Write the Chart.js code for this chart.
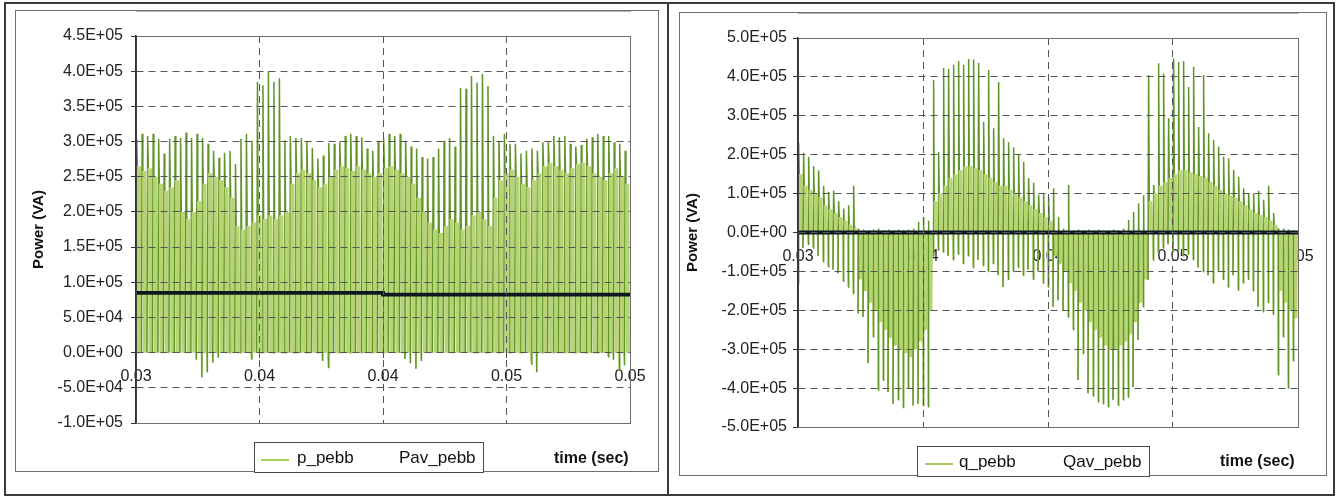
<!DOCTYPE html>
<html>
<head>
<meta charset="utf-8">
<script src="https://cdn.jsdelivr.net/npm/chart.js@4.4.1/dist/chart.umd.min.js"></script>
<style>
  body { margin: 0; width: 1338px; height: 497px; background: #fff; position: relative; overflow: hidden;
         font-family: "Liberation Sans", Arial, sans-serif; color: #111; }
  .outer { position: absolute; left: 4px; top: 2px; width: 1331px; height: 494px; border: 2px solid #3a3a3a; box-sizing: border-box; }
  .divider { position: absolute; left: 667px; top: 2px; width: 2px; height: 494px; background: #3a3a3a; }
  .frame { position: absolute; border: 1px solid #707070; box-sizing: border-box; }
  canvas { position: absolute; }
  .legend { position: absolute; border: 1px solid #4a4a4a; box-sizing: border-box; height: 31px; background: #fff; font-size: 17px; }
  .legend span { position: absolute; top: 5px; line-height: 19px; white-space: nowrap; }
  .legend i { position: absolute; top: 16px; width: 28px; height: 0; border-top: 2px solid #a9cd5a; }
  .xname { position: absolute; font-weight: bold; font-size: 16px; line-height: 18px; white-space: nowrap; }
</style>
</head>
<body>
<div class="outer"></div>
<div class="divider"></div>

<div class="frame" style="left:15px;top:10px;width:644px;height:462px;"></div>
<canvas id="chartP" width="642" height="460" style="left:16px;top:11px;width:642px;height:460px;"></canvas>
<div class="legend" style="left:254px;top:442px;width:230px;">
  <i style="left:6px;"></i><span style="left:42px;">p_pebb</span><span style="left:144px;">Pav_pebb</span>
</div>
<div class="xname" style="left:554px;top:449px;">time (sec)</div>

<div class="frame" style="left:679px;top:12px;width:648px;height:464px;"></div>
<canvas id="chartQ" width="646" height="462" style="left:680px;top:13px;width:646px;height:462px;"></canvas>
<div class="legend" style="left:917px;top:446px;width:233px;">
  <i style="left:7px;"></i><span style="left:41px;">q_pebb</span><span style="left:145px;">Qav_pebb</span>
</div>
<div class="xname" style="left:1220px;top:452px;">time (sec)</div>

<script>
// ---- data (power values in kVA; one entry per switching pulse) ----
const xTickValues = [0.03, 0.035, 0.04, 0.045, 0.05];
const xTickLabels = ['0.03', '0.04', '0.04', '0.05', '0.05'];

// p_pebb : pulse tops, light-fill level, bottom dips
const pPeak = [
  304, 311, 308, 311, 304, 283, 304, 308, 305, 313,
  305, 311, 305, 297, 287, 277, 284, 287, 268, 304,
  311, 301, 385, 380, 400, 385, 390, 302, 308, 305,
  305, 300, 291, 276, 280, 298, 297, 300, 308, 311,
  308, 306, 290, 287, 301, 305, 311, 308, 311, 301,
  293, 290, 278, 276, 278, 290, 301, 305, 293, 376,
  375, 393, 384, 396, 379, 308, 301, 311, 297, 297,
  283, 287, 290, 287, 299, 299, 308, 306, 308, 297,
  293, 295, 304, 306, 311, 308, 308, 299, 297, 287
];
const pFill = [
  265, 258, 262, 250, 240, 230, 235, 245, 200, 190,
  200, 215, 240, 255, 250, 245, 235, 220, 180, 175,
  180, 185, 195, 190, 195, 190, 195, 200, 240, 255,
  260, 255, 245, 235, 240, 250, 260, 265, 262, 258,
  265, 260, 255, 250, 255, 262, 265, 260, 255, 250,
  240, 220, 200, 185, 175, 170, 180, 190, 185, 175,
  180, 195, 200, 190, 180, 220, 245, 255, 260, 250,
  240, 235, 245, 255, 265, 270, 265, 260, 255, 262,
  268, 270, 265, 255, 250, 245, 255, 262, 250, 240
];
const pLow = [
  0, 0, 0, 0, 0, 0, 0, 0, 0, 0,
  0, -10, -35, -28, -14, -7, 0, 0, 0, 0,
  0, -9, 0, 0, 0, 0, 0, 0, 0, 0,
  0, 0, 0, 0, -12, -21, 0, 0, 0, 0,
  0, 0, 0, 0, 0, 0, 0, 0, 0, -9,
  -15, -23, -12, 0, 0, 0, 0, 0, 0, 0,
  0, 0, 0, 0, 0, 0, 0, 0, 0, 0,
  0, 0, -16, -28, 0, 0, 0, 0, 0, 0,
  0, 0, 0, 0, 0, 0, -6, -10, -25, -18
];
const pavTimes = [0.03, 0.04, 0.04, 0.05];
const pavValues = [85, 85, 82.5, 82.5];

// q_pebb : pulse tops, pulse bottoms, light-fill level
const qHigh = [
  230, 205, 195, 170, 160, 120, 105, 108, 80, 62,
  70, 120, 10, 8, 6, 8, 10, 6, 8, 6,
  8, 6, 8, 10, 27, 40, 30, 392, 207, 423,
  420, 431, 441, 431, 446, 445, 436, 285, 418, 268,
  387, 242, 232, 219, 199, 182, 140, 128, 97, 101,
  90, 114, 40, 10, 122, 6, 8, 6, 8, 6,
  8, 5, 6, 8, 6, 10, 32, 53, 75, 96,
  405, 122, 435, 409, 294, 448, 438, 440, 374, 426,
  271, 405, 255, 238, 221, 195, 191, 161, 143, 114,
  101, 101, 107, 84, 120, 50, 11, 10, 8, 6
];
const qLow = [
  -130, -40, -30, -40, -60, -75, -88, -95, -105, -125,
  -140, -157, -208, -217, -336, -268, -405, -380, -410, -440,
  -430, -450, -400, -445, -440, -445, -448, -60, -45, -50,
  -60, -70, -55, -80, -60, -90, -70, -85, -100, -80,
  -110, -140, -120, -100, -90, -110, -95, -120, -100, -130,
  -140, -191, -174, -200, -217, -250, -379, -311, -413, -420,
  -435, -440, -448, -430, -444, -430, -423, -397, -276, -191,
  -122, -71, -53, -40, -30, -50, -45, -60, -55, -70,
  -90, -100, -110, -130, -100, -120, -140, -110, -148, -130,
  -120, -150, -191, -204, -180, -210, -366, -268, -400, -330
];
const qMid = [
  150, 120, 110, 100, 90, 70, 60, 50, 40, 30,
  20, 10, -120, -150, -180, -200, -230, -250, -270, -290,
  -300, -310, -320, -300, -280, -250, -200, 80, 100, 120,
  140, 150, 160, 170, 170, 165, 160, 150, 140, 130,
  120, 120, 110, 100, 90, 80, 70, 60, 50, 40,
  30, -60, -80, -100, -130, -150, -180, -200, -230, -250,
  -270, -290, -300, -300, -290, -280, -260, -230, -180, -120,
  80, 100, 120, 130, 140, 150, 160, 160, 155, 150,
  145, 140, 130, 120, 110, 100, 95, 90, 80, 70,
  60, 50, 45, 40, 30, 20, -150, -180, -200, -220
];
const qavTimes = [0.03, 0.05];
const qavValues = [0, 0];

// ---- styling ----
const LIGHT = '#b6d472';
const DARK = '#5f9428';
const GRID = '#555555';
const SUB = 8; // samples per pulse: low, top, then fill/0 switching

// one pulse = SUB samples on the simulation time grid
function pulseWave(lows, tops, fills) {
  const t0 = xTickValues[0], t1 = xTickValues[xTickValues.length - 1];
  const dt = (t1 - t0) / (tops.length * SUB);
  const pts = [];
  tops.forEach((top, i) => {
    const f = fills[i];
    [lows[i], top, f, 0, f, 0, f, 0].forEach((v, k) => {
      pts.push({ x: t0 + (i * SUB + k) * dt, y: v * 1000 });
    });
  });
  return pts;
}

function avgLine(times, vals) {
  return times.map((t, i) => ({ x: t, y: vals[i] * 1000 }));
}

// 4.5E+05 style tick text
function sciLabel(v) {
  const [m, e] = Number(v).toExponential(1).split('e');
  return m + 'E' + e[0] + e.slice(1).padStart(2, '0');
}

const plotFrame = {
  id: 'plotFrame',
  afterDraw(chart) {
    const { ctx, chartArea: a } = chart;
    ctx.save();
    ctx.strokeStyle = '#6e6e6e';
    ctx.lineWidth = 1;
    ctx.strokeRect(Math.round(a.left) + 0.5, Math.round(a.top) + 0.5, Math.round(a.width), Math.round(a.height));
    ctx.strokeStyle = '#333';
    ctx.lineWidth = 1.5;
    ctx.beginPath();
    ctx.moveTo(a.left, a.top);
    ctx.lineTo(a.left, a.bottom);
    ctx.stroke();
    ctx.restore();
  }
};

function renderPowerPanel(canvasId, cfg) {
  const ctx = document.getElementById(canvasId)?.getContext('2d');
  if (!ctx) return null;

  return new Chart(ctx, {
    type: 'line',
    data: {
      datasets: [
        {
          label: cfg.names[0],
          data: cfg.wave,
          borderColor: LIGHT,
          borderWidth: 1.3,
          pointRadius: 0,
          tension: 0,
          order: 1,
          segment: {
            borderColor: s => (s.p0DataIndex % SUB < 2 ? DARK : LIGHT),
            borderWidth: s => (s.p0DataIndex % SUB < 2 ? 1.5 : 1.3),
          },
        },
        {
          label: cfg.names[1],
          data: cfg.avg,
          borderColor: '#0f1820',
          borderWidth: 3.8,
          pointRadius: 0,
          order: 0,
        }
      ]
    },
    options: {
      responsive: false,
      animation: false,
      events: [],
      layout: { padding: { top: 25, right: 28, bottom: 48, left: 0 } },
      plugins: { legend: { display: false }, tooltip: { enabled: false } },
      scales: {
        x: {
          type: 'linear',
          position: { y: 0 },
          min: xTickValues[0],
          max: xTickValues[xTickValues.length - 1],
          afterBuildTicks: s => { s.ticks = xTickValues.map(v => ({ value: v })); },
          afterFit: s => { s.height = 0; },
          grid: { color: GRID, lineWidth: 1, z: 1, tickLength: 5, tickColor: GRID },
          border: { display: true, color: '#666', width: 1, dash: [7, 5] },
          ticks: {
            color: '#222',
            font: { family: 'Liberation Sans', size: 16 },
            padding: 9,
            maxRotation: 0,
            autoSkip: false,
            callback: (v, i) => xTickLabels[i],
          }
        },
        y: {
          min: cfg.yMin,
          max: cfg.yMax,
          afterFit: s => { s.width = cfg.yWidth; },
          grid: { color: GRID, lineWidth: 1, z: 1, tickLength: 5, tickColor: '#333' },
          border: { display: true, color: '#333', width: 1.5, dash: [7, 5], z: 1 },
          ticks: {
            stepSize: cfg.yStep,
            color: '#222',
            font: { family: 'Liberation Sans', size: 16 },
            padding: cfg.tickPad,
            callback: v => sciLabel(v),
          },
          title: {
            display: true,
            text: 'Power (VA)',
            color: '#111',
            font: { family: 'Liberation Sans', size: 15, weight: 'bold' },
            padding: { top: cfg.titlePad, bottom: 0 },
          }
        }
      }
    },
    plugins: [plotFrame]
  });
}

renderPowerPanel('chartP', {
  names: ['p_pebb', 'Pav_pebb'],
  wave: pulseWave(pLow, pPeak, pFill),
  avg: avgLine(pavTimes, pavValues),
  yMin: -100000, yMax: 450000, yStep: 50000,
  yWidth: 120, tickPad: 8, titlePad: 14,
});

renderPowerPanel('chartQ', {
  names: ['q_pebb', 'Qav_pebb'],
  wave: pulseWave(qLow, qHigh, qMid),
  avg: avgLine(qavTimes, qavValues),
  yMin: -500000, yMax: 500000, yStep: 100000,
  yWidth: 118, tickPad: 6, titlePad: 4,
});
</script>
</body>
</html>
